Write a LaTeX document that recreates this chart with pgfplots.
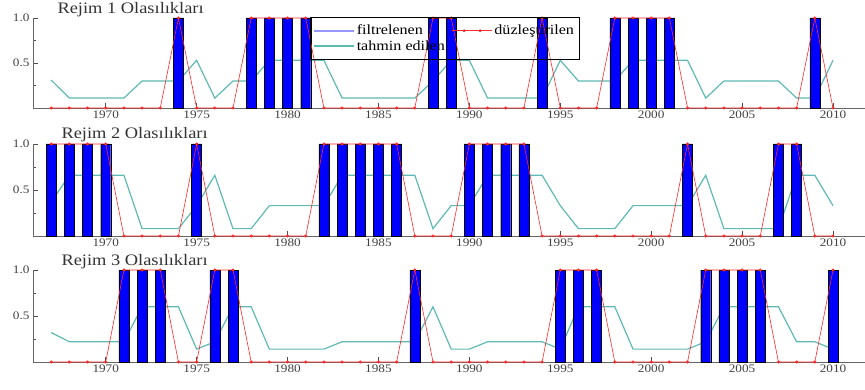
\documentclass[border=0pt]{standalone}
\usepackage{pgfplots}
\pgfplotsset{compat=1.18}
\usepackage{pgfplotstable}
\usepackage{fontspec}
\setmainfont{Liberation Serif}[FakeStretch=1.15]
\definecolor{tealc}{RGB}{95,185,180}
\definecolor{barblue}{RGB}{0,0,255}
\definecolor{redc}{RGB}{255,40,40}
\definecolor{legblue}{RGB}{150,150,255}

\pgfplotstableread{
year p1 p2 p3 s1 s2 s3
1967 0.31 0.37 0.32 0 1 0
1968 0.11 0.66 0.22 0 1 0
1969 0.11 0.66 0.22 0 1 0
1970 0.11 0.66 0.22 0 1 0
1971 0.11 0.66 0.22 0 0 1
1972 0.30 0.08 0.60 0 0 1
1973 0.30 0.08 0.60 0 0 1
1974 0.30 0.08 0.60 1 0 0
1975 0.53 0.33 0.14 0 1 0
1976 0.11 0.66 0.22 0 0 1
1977 0.30 0.08 0.60 0 0 1
1978 0.30 0.08 0.60 1 0 0
1979 0.53 0.33 0.14 1 0 0
1980 0.53 0.33 0.14 1 0 0
1981 0.53 0.33 0.14 1 0 0
1982 0.53 0.33 0.14 0 1 0
1983 0.11 0.66 0.22 0 1 0
1984 0.11 0.66 0.22 0 1 0
1985 0.11 0.66 0.22 0 1 0
1986 0.11 0.66 0.22 0 1 0
1987 0.11 0.66 0.22 0 0 1
1988 0.30 0.08 0.60 1 0 0
1989 0.53 0.33 0.14 1 0 0
1990 0.53 0.33 0.14 0 1 0
1991 0.11 0.66 0.22 0 1 0
1992 0.11 0.66 0.22 0 1 0
1993 0.11 0.66 0.22 0 1 0
1994 0.11 0.66 0.22 1 0 0
1995 0.53 0.33 0.14 0 0 1
1996 0.30 0.08 0.60 0 0 1
1997 0.30 0.08 0.60 0 0 1
1998 0.30 0.08 0.60 1 0 0
1999 0.53 0.33 0.14 1 0 0
2000 0.53 0.33 0.14 1 0 0
2001 0.53 0.33 0.14 1 0 0
2002 0.53 0.33 0.14 0 1 0
2003 0.11 0.66 0.22 0 0 1
2004 0.30 0.08 0.60 0 0 1
2005 0.30 0.08 0.60 0 0 1
2006 0.30 0.08 0.60 0 0 1
2007 0.30 0.08 0.60 0 1 0
2008 0.11 0.66 0.22 0 1 0
2009 0.11 0.66 0.22 1 0 0
2010 0.53 0.33 0.14 0 0 1
}\data

\tikzset{title node/.style={anchor=base west, font=\fontsize{16}{16}\selectfont, text=black!80}}

\pgfplotsset{
 panel/.style={
  width=832pt, scale only axis, xmin=1966, xmax=2011.76, ymin=0, ymax=1,
  axis x line*=bottom, axis y line*=left,
  axis line style={draw=black!60, line width=0.9pt},
  xtick={1970,1975,...,2010},
  x tick label style={/pgf/number format/1000 sep={}, yshift=1pt},
  ytick={0.5,1}, minor ytick={0.25,0.75},
  yticklabels={0.5,1.0},
  tick align=inside,
  major tick length=5pt, minor tick length=3pt,
  tick style={black!70, line width=0.8pt},
  ticklabel style={font=\fontsize{11.5}{12}\selectfont, text=black!75},
  /pgf/number format/assume math mode=true,
  clip=false,
 },
 teal plot/.style={tealc, line width=1.2pt, forget plot},
 bar plot/.style={ybar, bar width=0.55, fill=barblue, draw=black, line width=0.4pt, forget plot},
 red plot/.style={redc, line width=0.6pt, mark=*, mark size=1.2pt, mark options={fill=redc, draw=redc}, forget plot},
}

\begin{document}
\begin{tikzpicture}
\useasboundingbox (0,0) rectangle (865pt,389pt);

% Panel 1
\begin{axis}[panel, height=90pt, at={(33pt,281pt)}, anchor=south west,
  legend columns=2,
  legend style={at={(axis description cs:0.333,1.012)}, anchor=north west,
    draw=black, fill=none, font=\fontsize{14}{15}\selectfont, legend cell align=left,
    inner xsep=3pt, inner ysep=6pt, row sep=0pt,
    /tikz/every even column/.append style={column sep=5pt}}]
\addlegendimage{legend image code/.code={\draw[legblue, line width=1.5pt] (0pt,0pt) -- (40pt,0pt);}}
\addlegendentry{filtrelenen}
\addlegendimage{legend image code/.code={\draw[redc, line width=0.6pt] (0pt,0pt)--(40pt,0pt); \fill[redc] (12pt,0pt) circle (1.2pt); \fill[redc] (28pt,0pt) circle (1.2pt);}}
\addlegendentry{düzleştirilen}
\addlegendimage{legend image code/.code={\draw[tealc, line width=1.2pt] (0pt,0pt) -- (40pt,0pt);}}
\addlegendentry{tahmin edilen}
\addplot[teal plot] table[x=year,y=p1]{\data};
\addplot[bar plot] coordinates {(1974,1)(1978,1)(1979,1)(1980,1)(1981,1)(1988,1)(1989,1)(1994,1)(1998,1)(1999,1)(2000,1)(2001,1)(2009,1)};
\addplot[red plot] table[x=year,y=s1]{\data};
\node[title node] at ([xshift=21pt,yshift=4pt]axis description cs:0,1) {Rejim 1 Olasılıkları};
\end{axis}

% Panel 2
\begin{axis}[panel, height=92pt, at={(33pt,153pt)}, anchor=south west]
\addplot[teal plot] table[x=year,y=p2]{\data};
\addplot[bar plot] coordinates {(1967,1)(1968,1)(1969,1)(1970,1)(1975,1)(1982,1)(1983,1)(1984,1)(1985,1)(1986,1)(1990,1)(1991,1)(1992,1)(1993,1)(2002,1)(2007,1)(2008,1)};
\addplot[red plot] table[x=year,y=s2]{\data};
\node[title node] at ([xshift=25pt,yshift=5pt]axis description cs:0,1) {Rejim 2 Olasılıkları};
\end{axis}

% Panel 3
\begin{axis}[panel, height=92pt, at={(33pt,27pt)}, anchor=south west]
\addplot[teal plot] table[x=year,y=p3]{\data};
\addplot[bar plot] coordinates {(1971,1)(1972,1)(1973,1)(1976,1)(1977,1)(1987,1)(1995,1)(1996,1)(1997,1)(2003,1)(2004,1)(2005,1)(2006,1)(2010,1)};
\addplot[red plot] table[x=year,y=s3]{\data};
\node[title node] at ([xshift=25pt,yshift=5pt]axis description cs:0,1) {Rejim 3 Olasılıkları};
\end{axis}
\end{tikzpicture}
\end{document}
